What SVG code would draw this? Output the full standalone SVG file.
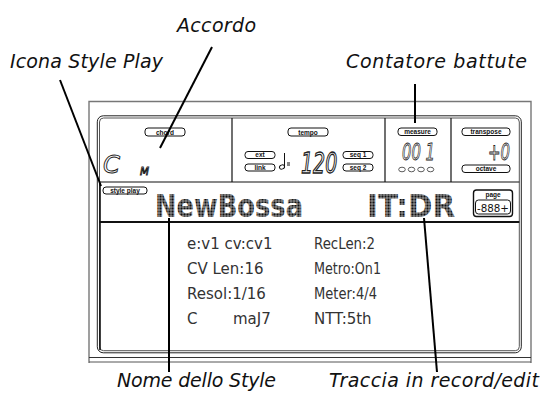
<svg xmlns="http://www.w3.org/2000/svg" width="540" height="405" viewBox="0 0 540 405">
<defs>
<style>
.lbl{font-family:"DejaVu Sans","Open Sans",sans-serif;font-style:italic;font-size:19px;fill:#111}
.pill{fill:#fff;stroke:#111;stroke-width:1}
.pt{font-family:"Liberation Sans",Arial,sans-serif;font-weight:bold;font-size:6.5px;fill:#111;text-anchor:middle}
.seg{font-family:"DejaVu Sans",sans-serif;font-style:italic;fill:#fff;stroke:#222;stroke-width:0.9}
.lcd{font-family:"DejaVu Sans",sans-serif;font-size:15px;fill:#333}
.dot{font-family:"DejaVu Sans",sans-serif;font-weight:bold;font-size:32px;fill:url(#dots)}
.sep{stroke:#111;stroke-width:1.2;fill:none}
.lead{stroke:#000;stroke-width:2;fill:none}
</style>
<pattern id="dots" patternUnits="userSpaceOnUse" width="3" height="3">
<rect x="0.25" y="0.25" width="2.5" height="2.5" fill="#111"/>
</pattern>
</defs>
<rect width="540" height="405" fill="#fff"/>
<g id="frame">
<path d="M89 363 V101.5 H531 V363" fill="none" stroke="#777" stroke-width="1.4"/>
<line x1="89" y1="357.5" x2="531" y2="357.5" stroke="#333" stroke-width="1"/>
<line x1="89" y1="362" x2="531" y2="362" stroke="#555" stroke-width="1"/>
<rect x="97.3" y="115.8" width="424" height="237" rx="6" fill="#fff" stroke="#222" stroke-width="1"/>
<rect x="99.5" y="118" width="419.8" height="232.7" rx="4" fill="none" stroke="#555" stroke-width="1"/>
<line class="sep" x1="99.5" y1="182" x2="519.3" y2="182"/>
<line x1="99.5" y1="222" x2="519.3" y2="222" stroke="#111" stroke-width="1.8"/>
<line class="sep" x1="232" y1="118" x2="232" y2="182"/>
<line class="sep" x1="385" y1="118" x2="385" y2="182"/>
<line class="sep" x1="451" y1="118" x2="451" y2="182"/>
<line x1="100" y1="183" x2="100" y2="350" stroke="#111" stroke-width="1.6"/>
</g>
<g id="chord">
<rect class="pill" x="145" y="128" width="40" height="8" rx="3"/>
<text class="pt" x="165" y="134.5">chord</text>
<text class="seg" x="103" y="173" font-size="24" textLength="17" lengthAdjust="spacingAndGlyphs">C</text>
<text class="seg" x="140" y="175" font-size="11" textLength="9" lengthAdjust="spacingAndGlyphs">M</text>
</g>
<g id="tempo">
<rect class="pill" x="288" y="128" width="40" height="8" rx="3"/>
<text class="pt" x="308" y="134.5">tempo</text>
<rect class="pill" x="245" y="151.5" width="30" height="7" rx="3"/>
<text class="pt" x="260" y="157.3">ext</text>
<rect class="pill" x="245" y="164" width="30" height="7" rx="3"/>
<text class="pt" x="260" y="169.8">link</text>
<ellipse cx="282" cy="167" rx="2.6" ry="2" fill="none" stroke="#111" stroke-width="1" transform="rotate(-20 282 167)"/>
<line x1="284.5" y1="166" x2="284.5" y2="153" stroke="#111" stroke-width="1"/>
<rect x="287" y="162.5" width="3" height="1" fill="#111"/>
<rect x="287" y="164.5" width="3" height="1" fill="#111"/>
<text class="seg" transform="translate(301 173) scale(1 1.45)" x="0" y="0" font-size="19" stroke-width="0.7">120</text>
<rect class="pill" x="343" y="151.5" width="30" height="7" rx="3"/>
<text class="pt" x="358" y="157.3">seq 1</text>
<rect class="pill" x="343" y="164" width="30" height="7" rx="3"/>
<text class="pt" x="358" y="169.8">seq 2</text>
</g>
<g id="measure">
<rect class="pill" x="398" y="128" width="39" height="7.5" rx="3"/>
<text class="pt" x="417.5" y="134">measure</text>
<text class="seg" x="402" y="160" font-size="23" textLength="33" lengthAdjust="spacingAndGlyphs">00 1</text>
<ellipse cx="402" cy="169.5" rx="3.3" ry="2.3" fill="none" stroke="#333" stroke-width="0.8"/>
<ellipse cx="411.5" cy="169.5" rx="3.3" ry="2.3" fill="none" stroke="#333" stroke-width="0.8"/>
<ellipse cx="421" cy="169.5" rx="3.3" ry="2.3" fill="none" stroke="#333" stroke-width="0.8"/>
<ellipse cx="430.5" cy="169.5" rx="3.3" ry="2.3" fill="none" stroke="#333" stroke-width="0.8"/>
</g>
<g id="transpose">
<rect class="pill" x="462" y="128" width="48" height="7.5" rx="3"/>
<text class="pt" x="486" y="134">transpose</text>
<text class="seg" x="488" y="160" font-size="23" textLength="22" lengthAdjust="spacingAndGlyphs">+0</text>
<rect class="pill" x="462" y="165" width="48" height="7.5" rx="3"/>
<text class="pt" x="486" y="171">octave</text>
</g>
<g id="styleplay">
<rect class="pill" x="103" y="187" width="44" height="7" rx="3"/>
<text class="pt" x="125" y="192.7">style play</text>
</g>
<g id="name">
<text class="dot" x="155" y="217" textLength="148" lengthAdjust="spacingAndGlyphs">NewBossa</text>
<text class="dot" x="367" y="217" textLength="88" lengthAdjust="spacingAndGlyphs">IT:DR</text>
</g>
<g id="page">
<rect x="473.5" y="190" width="39" height="26.5" rx="3" fill="#fff" stroke="#111" stroke-width="1.4"/>
<text class="pt" x="493" y="197">page</text>
<rect x="475.5" y="200" width="35" height="14" rx="3" fill="none" stroke="#111" stroke-width="1"/>
<text x="493" y="211.5" font-family="DejaVu Sans,sans-serif" font-size="10" fill="#111" text-anchor="middle" textLength="32" lengthAdjust="spacingAndGlyphs">-888+</text>
</g>
<g id="params">
<text class="lcd" x="187" y="249">e:v1 cv:cv1</text>
<text class="lcd" x="314" y="249" textLength="61" lengthAdjust="spacingAndGlyphs">RecLen:2</text>
<text class="lcd" x="187" y="274">CV Len:16</text>
<text class="lcd" x="314" y="274" textLength="67" lengthAdjust="spacingAndGlyphs">Metro:On1</text>
<text class="lcd" x="187" y="299">Resol:1/16</text>
<text class="lcd" x="314" y="299" textLength="63" lengthAdjust="spacingAndGlyphs">Meter:4/4</text>
<text class="lcd" x="187" y="324">C</text>
<text class="lcd" x="233" y="324">maJ7</text>
<text class="lcd" x="314" y="324">NTT:5th</text>
</g>
<g id="connectors">
<line class="lead" x1="212" y1="47" x2="160" y2="148"/>
<line class="lead" x1="60" y1="80" x2="101" y2="186"/>
<line class="lead" x1="415" y1="84" x2="415" y2="123"/>
<line class="lead" x1="169" y1="218" x2="169" y2="372"/>
<line class="lead" x1="424" y1="218" x2="437" y2="372"/>
</g>
<g id="labels">
<text class="lbl" x="177" y="32" textLength="79">Accordo</text>
<text class="lbl" x="10" y="68" textLength="153">Icona Style Play</text>
<text class="lbl" x="346" y="68" textLength="181">Contatore battute</text>
<text class="lbl" x="117" y="387" textLength="159">Nome dello Style</text>
<text class="lbl" x="329" y="387" textLength="210">Traccia in record/edit</text>
</g>
</svg>
